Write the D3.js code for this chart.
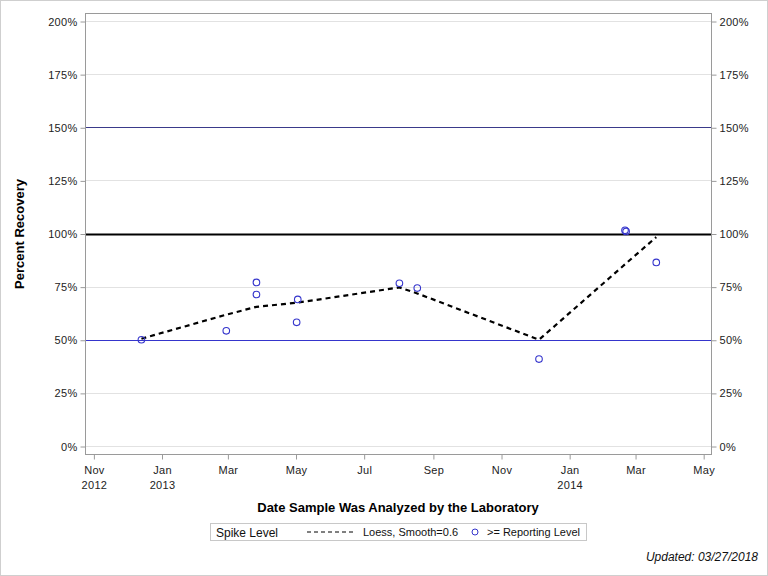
<!DOCTYPE html>
<html><head><meta charset="utf-8">
<script src="https://cdn.jsdelivr.net/npm/d3@7"></script>
<style>body{margin:0;background:#fff}svg{display:block}text{font-family:"Liberation Sans",Arial,sans-serif}</style>
</head><body><svg id="c" width="768" height="576"></svg>
<script>
const sampleDates = ["2012-12-14","2013-02-28","2013-03-27","2013-03-27","2013-05-02","2013-05-03","2013-08-02","2013-08-18","2013-12-05","2014-02-20","2014-02-21","2014-03-20"];
const recovery = [50.0,54.2,77.0,71.3,58.2,69.0,76.6,74.3,40.9,101.5,101.0,86.4];
const loessDates = ["2012-12-14","2013-02-28","2013-03-27","2013-05-02","2013-08-02","2013-08-18","2013-12-05","2014-02-20","2014-03-20"];
const loessValues = [50.5,61.8,65.5,67.4,74.6,71.8,50.0,85.5,98.3];
const yTicks = [0,25,50,75,100,125,150,175,200];
const xTickDates = ["2012-11-01","2013-01-01","2013-03-01","2013-05-01","2013-07-01","2013-09-01","2013-11-01","2014-01-01","2014-03-01","2014-05-01"];
const refLines = [{v:50,c:"#3535cc",w:1},{v:100,c:"#000",w:2},{v:150,c:"#3a3a8a",w:1}];

const parse = d3.timeParse("%Y-%m-%d");
const svg = d3.select("#c");
const L=85,R=711,T=13,B=454;
const x = d3.scaleTime().domain([new Date(2012,9,24,12), new Date(2014,4,8)]).range([L,R]);
const y2 = d3.scaleLinear().domain([0,200]).range([446,21]);

svg.append("rect").attr("x",0.5).attr("y",0.5).attr("width",767).attr("height",575).attr("fill","#fff").attr("stroke","#cfcfcf");

svg.append("g").selectAll("line").data(yTicks).join("line")
  .attr("x1",L).attr("x2",R).attr("y1",d=>Math.round(y2(d))+0.5).attr("y2",d=>Math.round(y2(d))+0.5)
  .attr("stroke","#e2e2e2");
svg.append("g").selectAll("line").data(refLines).join("line")
  .attr("x1",L).attr("x2",R).attr("y1",d=>Math.round(y2(d.v))+0.5).attr("y2",d=>Math.round(y2(d.v))+0.5)
  .attr("stroke",d=>d.c).attr("stroke-width",d=>d.w);

svg.append("rect").attr("x",L+0.5).attr("y",T+0.5).attr("width",R-L).attr("height",B-T).attr("fill","none").attr("stroke","#9a9a9a");

const fmtPct = d=>d+"%";
const yl = d3.axisLeft(y2).tickValues(yTicks).tickFormat(fmtPct).tickSize(5).tickPadding(3);
const yr = d3.axisRight(y2).tickValues(yTicks).tickFormat(fmtPct).tickSize(5).tickPadding(3);
function styleAxis(g){g.select(".domain").remove();g.selectAll("line").attr("stroke","#9a9a9a");g.selectAll("text").attr("font-size","11px").attr("fill","#222").style("font-family","Liberation Sans, Arial, sans-serif").style("letter-spacing","0.3px");}
svg.append("g").attr("transform",`translate(${L+0.5},0.5)`).call(yl).call(styleAxis);
svg.append("g").attr("transform",`translate(${R+0.5},0.5)`).call(yr).call(styleAxis);

const xa = d3.axisBottom(x).tickValues(xTickDates.map(parse)).tickFormat(()=> "").tickSize(5);
const xg = svg.append("g").attr("transform",`translate(0.5,${B+0.5})`).call(xa).call(styleAxis);
const mfmt = d3.timeFormat("%b"), yfmt=d3.timeFormat("%Y");
xg.selectAll(".tick").each(function(d,i){
  const t=d3.select(this);
  t.append("text").attr("y",19).attr("text-anchor","middle").attr("font-size","11px").attr("fill","#222").style("letter-spacing","0.3px").text(mfmt(d));
  if(d.getMonth()===0 || i===0) t.append("text").attr("y",34).attr("text-anchor","middle").attr("font-size","11px").attr("fill","#222").style("letter-spacing","0.3px").text(yfmt(d));
});

const line = d3.line().x((d,i)=>x(parse(loessDates[i]))).y(d=>y2(d));
svg.append("path").datum(loessValues).attr("d",line).attr("fill","none").attr("stroke","#000").attr("stroke-width",2.2).attr("stroke-dasharray","5,4");

svg.append("g").selectAll("circle").data(recovery).join("circle")
  .attr("cx",(d,i)=>x(parse(sampleDates[i]))).attr("cy",d=>y2(d)).attr("r",3.3)
  .attr("fill","none").attr("stroke","#3535cc").attr("stroke-width",1.1);

svg.append("text").attr("transform","translate(24,234) rotate(-90)").attr("text-anchor","middle")
  .attr("font-size","13px").attr("font-weight","bold").text("Percent Recovery");
svg.append("text").attr("x",398).attr("y",512).attr("text-anchor","middle")
  .attr("font-size","13px").attr("font-weight","bold").text("Date Sample Was Analyzed by the Laboratory");

const lg = svg.append("g");
lg.append("rect").attr("x",210.5).attr("y",523.5).attr("width",376).attr("height",17).attr("fill","#fff").attr("stroke","#c8c8c8");
lg.append("text").attr("x",216).attr("y",537).attr("font-size","12px").attr("fill","#111").text("Spike Level");
lg.append("line").attr("x1",307).attr("x2",355).attr("y1",532).attr("y2",532).attr("stroke","#000").attr("stroke-width",1).attr("stroke-dasharray","4,3");
lg.append("text").attr("x",363).attr("y",536).attr("font-size","11px").attr("fill","#111").text("Loess, Smooth=0.6");
lg.append("circle").attr("cx",475).attr("cy",532).attr("r",3).attr("fill","none").attr("stroke","#3535cc");
lg.append("text").attr("x",487).attr("y",536).attr("font-size","11px").attr("fill","#111").text(">= Reporting Level");

svg.append("text").attr("x",758).attr("y",561).attr("text-anchor","end").attr("font-size","12px").attr("font-style","italic").attr("fill","#111").text("Updated: 03/27/2018");
</script></body></html>
